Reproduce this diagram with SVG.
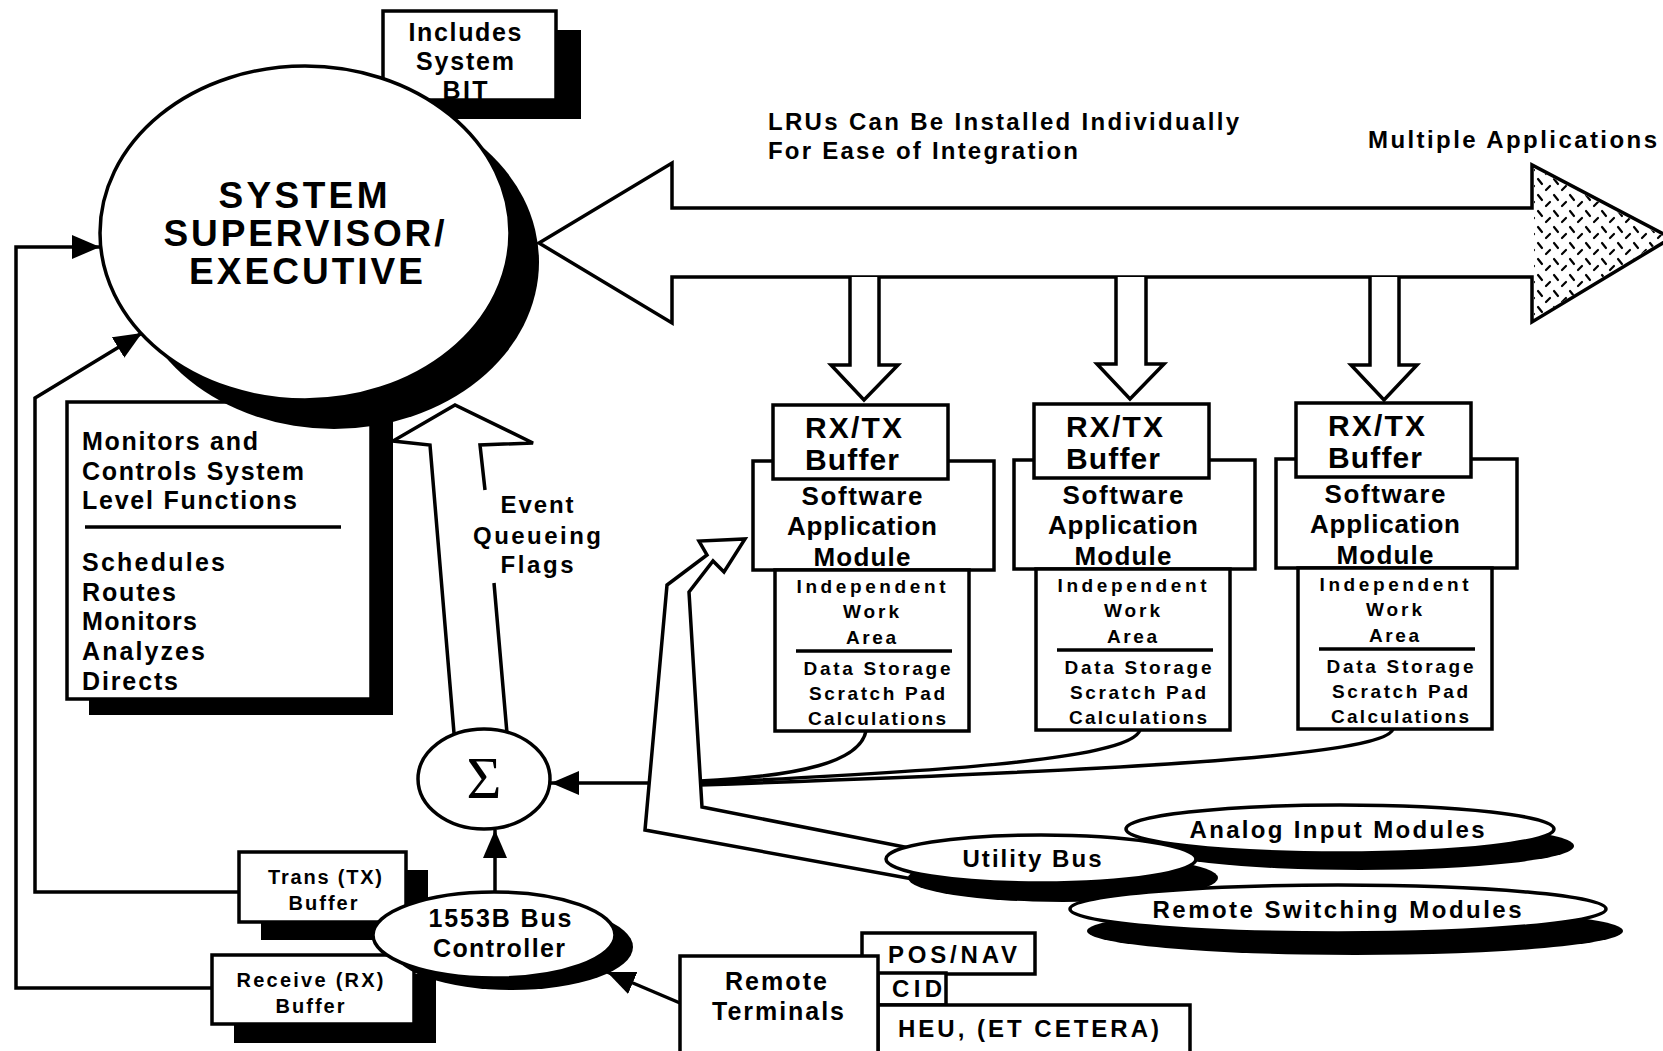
<svg xmlns="http://www.w3.org/2000/svg" width="1663" height="1051" viewBox="0 0 1663 1051">
<style>
.ln{stroke:#000;stroke-width:3.5;fill:none}
.bx{fill:#fff;stroke:#000;stroke-width:3.5}
.ho{fill:#fff;stroke:#000;stroke-width:3.5;stroke-linejoin:miter}
.sh{fill:#000}
.t{font-family:"Liberation Sans",Arial,Helvetica,sans-serif;font-weight:bold;fill:#000}
.c{text-anchor:middle}
.f41{font-size:37px}
.f30{font-size:30px}
.f26{font-size:26px}
.f25{font-size:25px}
.f24{font-size:24px}
.f20{font-size:20px}
.f19{font-size:19px}
</style>
<defs>
<marker id="ah" viewBox="0 0 28 24" refX="28" refY="12" markerWidth="28" markerHeight="24" markerUnits="userSpaceOnUse" orient="auto">
<path d="M0,0 L28,12 L0,24 Z" fill="#000"/>
</marker>
<pattern id="hatch" width="16" height="16" patternUnits="userSpaceOnUse">
<path d="M2,3 L6,8 M10,14 L14,10" stroke="#000" stroke-width="2.2" stroke-linecap="round" fill="none"/>
</pattern>
</defs>
<rect width="1663" height="1051" fill="#fff"/>

<g id="connectors">
<path class="ln" d="M212 988 H16 V247 H100" marker-end="url(#ah)"/>
<path class="ln" d="M239 892 H35 V398 L142 333" marker-end="url(#ah)"/>
<path class="ln" d="M866 731 C860 762 800 776 700 781"/>
<path class="ln" d="M1140 730 C1130 762 900 773 700 783"/>
<path class="ln" d="M1393 729 C1385 757 1100 771 700 785"/>
<path class="ln" d="M702 783 H551" marker-end="url(#ah)"/>
<path class="ln" d="M495 893 V830" marker-end="url(#ah)"/>
<path class="ln" d="M680 1003 L607 972" marker-end="url(#ah)"/>
<path class="ho" stroke-width="4" d="M645 830 L667 585 L707 555 L699 541 L745 539 L724 572 L713 561 L689 592 L702 807 L930 852 L940 884 Z"/>
<path d="M455 405 L533 443 L480 445 L508 745 L455 745 L430 445 L393 441 Z" fill="#fff"/>
<path class="ln" d="M455 745 L430 445 L393 441 L455 405 L533 443 L480 445 L485 490 M494 583 L508 745"/>
<path class="ho" stroke-width="4.5" d="M539 243 L672 163 L672 208 L1532 208 L1532 165 L1671 238 L1532 322 L1532 277 L672 277 L672 323 Z"/>
<path d="M1534 168 L1667 238 L1534 319 Z" fill="url(#hatch)"/>
<path class="ho" d="M850 277 V365 H831 L864 400 L898 365 H879 V277"/>
<path class="ho" d="M1116 277 V364 H1097 L1130 399 L1164 364 H1146 V277"/>
<path class="ho" d="M1370 277 V365 H1351 L1384 400 L1417 365 H1399 V277"/>
</g>

<g id="includes-bit">
<rect class="sh" x="408" y="30" width="173" height="89"/>
<rect class="bx" x="383" y="11" width="173" height="89"/>
<text class="t f25 c" x="465" y="41" textLength="113">Includes</text>
<text class="t f25 c" x="465" y="70" textLength="98">System</text>
<text class="t f25 c" x="465" y="99" textLength="45">BIT</text>
</g>

<g id="monitors">
<rect class="sh" x="89" y="418" width="304" height="297"/>
<rect class="bx" x="67" y="402" width="304" height="297"/>
<line class="ln" x1="85" y1="527" x2="341" y2="527" stroke-width="3"/>
<text class="t f25" x="82" y="450" textLength="176">Monitors and</text>
<text class="t f25" x="82" y="480" textLength="222">Controls System</text>
<text class="t f25" x="82" y="509" textLength="215">Level Functions</text>
<text class="t f25" x="82" y="571" textLength="143">Schedules</text>
<text class="t f25" x="82" y="601" textLength="94">Routes</text>
<text class="t f25" x="82" y="630" textLength="115">Monitors</text>
<text class="t f25" x="82" y="660" textLength="123">Analyzes</text>
<text class="t f25" x="82" y="690" textLength="96">Directs</text>
</g>

<g id="supervisor">
<ellipse class="sh" cx="334" cy="262" rx="205" ry="167"/>
<ellipse class="bx" cx="305" cy="233" rx="205" ry="167"/>
<text class="t f41 c" x="303" y="208" textLength="169">SYSTEM</text>
<text class="t f41 c" x="304" y="246" textLength="281">SUPERVISOR/</text>
<text class="t f41 c" x="306" y="284" textLength="234">EXECUTIVE</text>
</g>

<g id="event-label">
<text class="t f24 c" x="537" y="513" textLength="73">Event</text>
<text class="t f24 c" x="537" y="544" textLength="128">Queueing</text>
<text class="t f24 c" x="537" y="573" textLength="73">Flags</text>
</g>

<g id="lru-label">
<text class="t f24" x="768" y="130" textLength="471">LRUs Can Be Installed Individually</text>
<text class="t f24" x="768" y="159" textLength="310">For Ease of Integration</text>
</g>

<g id="multiple-apps">
<text class="t f24" x="1368" y="148" textLength="289">Multiple Applications</text>
</g>

<g id="trans-buffer">
<rect class="sh" x="261" y="870" width="167" height="70"/>
<rect class="bx" x="239" y="852" width="167" height="70"/>
<text class="t f20 c" x="325" y="884" textLength="114">Trans (TX)</text>
<text class="t f20 c" x="323" y="910" textLength="69">Buffer</text>
</g>

<g id="receive-buffer">
<rect class="sh" x="234" y="974" width="202" height="69"/>
<rect class="bx" x="212" y="955" width="202" height="69"/>
<text class="t f20 c" x="310" y="987" textLength="147">Receive (RX)</text>
<text class="t f20 c" x="310" y="1013" textLength="69">Buffer</text>
</g>

<g id="bus-controller">
<ellipse class="sh" cx="512" cy="947" rx="121" ry="43"/>
<ellipse class="bx" cx="494" cy="935" rx="121" ry="43"/>
<text class="t f25 c" x="500" y="927" textLength="143">1553B Bus</text>
<text class="t f25 c" x="499" y="957" textLength="132">Controller</text>
</g>

<g id="sigma">
<ellipse class="bx" cx="484" cy="779" rx="66" ry="50"/>
<text x="484" y="798" text-anchor="middle" font-family="'Liberation Serif','Times New Roman',serif" font-size="60">Σ</text>
</g>

<g id="module-1">
<rect class="bx" x="753" y="461" width="241" height="109"/>
<rect class="bx" x="773" y="405" width="175" height="74"/>
<rect class="bx" x="775" y="570" width="194" height="161"/>
<line class="ln" x1="796" y1="651" x2="952" y2="651" stroke-width="3"/>
<text class="t f30" x="805" y="438" textLength="97">RX/TX</text>
<text class="t f30" x="805" y="470" textLength="94">Buffer</text>
<text class="t f26 c" x="862" y="505" textLength="121">Software</text>
<text class="t f26 c" x="862" y="535" textLength="150">Application</text>
<text class="t f26 c" x="862" y="566" textLength="97">Module</text>
<text class="t f19 c" x="871" y="593" textLength="149">Independent</text>
<text class="t f19 c" x="871" y="618" textLength="56">Work</text>
<text class="t f19 c" x="871" y="644" textLength="50">Area</text>
<text class="t f19 c" x="877" y="675" textLength="147">Data Storage</text>
<text class="t f19 c" x="877" y="700" textLength="136">Scratch Pad</text>
<text class="t f19 c" x="877" y="725" textLength="138">Calculations</text>
</g>

<g id="module-2" transform="translate(261,-1)">
<rect class="bx" x="753" y="461" width="241" height="109"/>
<rect class="bx" x="773" y="405" width="175" height="74"/>
<rect class="bx" x="775" y="570" width="194" height="161"/>
<line class="ln" x1="796" y1="651" x2="952" y2="651" stroke-width="3"/>
<text class="t f30" x="805" y="438" textLength="97">RX/TX</text>
<text class="t f30" x="805" y="470" textLength="94">Buffer</text>
<text class="t f26 c" x="862" y="505" textLength="121">Software</text>
<text class="t f26 c" x="862" y="535" textLength="150">Application</text>
<text class="t f26 c" x="862" y="566" textLength="97">Module</text>
<text class="t f19 c" x="871" y="593" textLength="149">Independent</text>
<text class="t f19 c" x="871" y="618" textLength="56">Work</text>
<text class="t f19 c" x="871" y="644" textLength="50">Area</text>
<text class="t f19 c" x="877" y="675" textLength="147">Data Storage</text>
<text class="t f19 c" x="877" y="700" textLength="136">Scratch Pad</text>
<text class="t f19 c" x="877" y="725" textLength="138">Calculations</text>
</g>

<g id="module-3" transform="translate(523,-2)">
<rect class="bx" x="753" y="461" width="241" height="109"/>
<rect class="bx" x="773" y="405" width="175" height="74"/>
<rect class="bx" x="775" y="570" width="194" height="161"/>
<line class="ln" x1="796" y1="651" x2="952" y2="651" stroke-width="3"/>
<text class="t f30" x="805" y="438" textLength="97">RX/TX</text>
<text class="t f30" x="805" y="470" textLength="94">Buffer</text>
<text class="t f26 c" x="862" y="505" textLength="121">Software</text>
<text class="t f26 c" x="862" y="535" textLength="150">Application</text>
<text class="t f26 c" x="862" y="566" textLength="97">Module</text>
<text class="t f19 c" x="871" y="593" textLength="149">Independent</text>
<text class="t f19 c" x="871" y="618" textLength="56">Work</text>
<text class="t f19 c" x="871" y="644" textLength="50">Area</text>
<text class="t f19 c" x="877" y="675" textLength="147">Data Storage</text>
<text class="t f19 c" x="877" y="700" textLength="136">Scratch Pad</text>
<text class="t f19 c" x="877" y="725" textLength="138">Calculations</text>
</g>

<g id="analog-input">
<ellipse class="sh" cx="1360" cy="846" rx="214" ry="24"/>
<ellipse class="bx" cx="1340" cy="829" rx="214" ry="24"/>
<text class="t f24 c" x="1337" y="838" textLength="295">Analog Input Modules</text>
</g>

<g id="utility-bus">
<ellipse class="sh" cx="1063" cy="878" rx="155" ry="24"/>
<ellipse class="bx" cx="1041" cy="859" rx="155" ry="24"/>
<text class="t f24 c" x="1032" y="867" textLength="139">Utility Bus</text>
</g>

<g id="remote-switching">
<ellipse class="sh" cx="1355" cy="931" rx="268" ry="24"/>
<ellipse class="bx" cx="1338" cy="909" rx="268" ry="24"/>
<text class="t f24 c" x="1337" y="918" textLength="369">Remote Switching Modules</text>
</g>

<g id="pos-nav">
<rect class="bx" x="862" y="933" width="173" height="41" stroke-width="4.5"/>
<text class="t f24" x="888" y="963" textLength="129">POS/NAV</text>
</g>

<g id="cid">
<rect class="bx" x="878" y="973" width="68" height="32" stroke-width="4.5"/>
<text class="t f24" x="892" y="997" textLength="50">CID</text>
</g>

<g id="heu">
<rect class="bx" x="878" y="1005" width="312" height="60" stroke-width="4.5"/>
<text class="t f24" x="898" y="1037" textLength="261">HEU, (ET CETERA)</text>
</g>

<g id="remote-terminals">
<rect class="bx" x="680" y="956" width="198" height="110"/>
<text class="t f25 c" x="776" y="990" textLength="102">Remote</text>
<text class="t f25 c" x="778" y="1020" textLength="132">Terminals</text>
</g>
</svg>
